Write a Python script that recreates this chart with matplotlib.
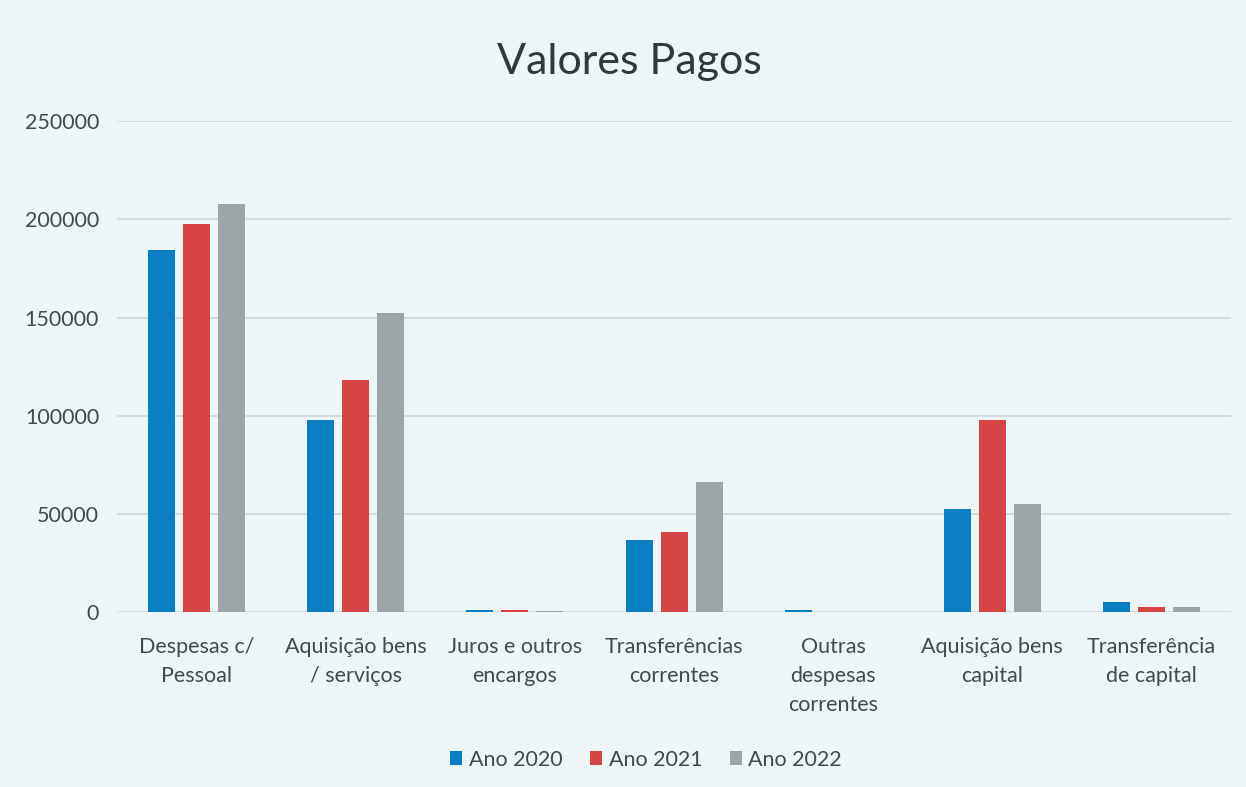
import numpy as np
import matplotlib
matplotlib.use("Agg")
import matplotlib.pyplot as plt

plt.rcParams['font.family'] = ['Lato', 'DejaVu Sans']

categorias = ["Despesas c/\nPessoal", "Aquisição bens\n/ serviços", "Juros e outros\nencargos",
              "Transferências\ncorrentes", "Outras\ndespesas\ncorrentes", "Aquisição bens\ncapital",
              "Transferência\nde capital"]
anos = ["Ano 2020", "Ano 2021", "Ano 2022"]
ano_2020 = [184300, 97900, 1200, 36900, 1200, 52700, 5300]
ano_2021 = [197500, 118400, 1000, 41000, 300, 98100, 2700]
ano_2022 = [207700, 152400, 700, 66300, 300, 55100, 2900]
cores = ['#0a7fc4', '#d64545', '#9ea5a8']

bg = '#edf5f7'
texto = '#404a4f'

fig = plt.figure(figsize=(12.46, 7.87), dpi=100, facecolor=bg)
ax = fig.add_axes([0.094, 0.222, 0.894, 0.624], facecolor=bg)

x = np.arange(len(categorias))
largura = 0.17
passo = 0.22
for i, (serie, nome) in enumerate(zip([ano_2020, ano_2021, ano_2022], anos)):
    ax.bar(x + (i - 1) * passo, serie, largura, color=cores[i], label=nome, zorder=3)

ax.set_ylim(0, 250000)
ax.set_xlim(-0.5, len(categorias) - 0.5)
ax.set_yticks(np.arange(0, 250001, 50000))
ax.yaxis.grid(True, color='#cfd5d8', linewidth=1.2, zorder=0)
for s in ax.spines.values():
    s.set_visible(False)
ax.tick_params(axis='both', length=0, labelsize=15.5, colors=texto)
ax.tick_params(axis='x', pad=18)
ax.tick_params(axis='y', pad=13)
ax.set_xticks(x)
ax.set_xticklabels(categorias, linespacing=1.55, va='top')

fig.suptitle("Valores Pagos", x=0.505, y=0.945, fontsize=31, color='#2e3a40')

ax.legend(loc='lower center', bbox_to_anchor=(0.475, -0.36), ncol=3, frameon=False,
          fontsize=15.5, labelcolor=texto, handlelength=0.55, handleheight=0.6,
          handletextpad=0.3, columnspacing=1.3)

fig.savefig("out.png", dpi=100, facecolor=bg)
